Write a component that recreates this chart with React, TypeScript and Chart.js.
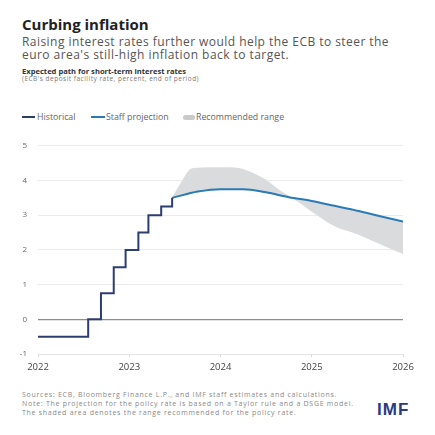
import React, { useEffect, useRef } from "react";
import { Chart, registerables } from "chart.js";

Chart.register(...registerables);

// Historical ECB deposit facility rate (step changes)
const histDates = [2022.0, 2022.55, 2022.69, 2022.83, 2022.96, 2023.1, 2023.21, 2023.35, 2023.47];
const histRates = [-0.5, 0.0, 0.75, 1.5, 2.0, 2.5, 3.0, 3.25, 3.5];

// Staff projection
const projDates = [2023.47, 2023.75, 2024.0, 2024.25, 2024.5, 2024.75, 2025.0, 2025.25, 2025.5, 2025.75, 2026.0];
const projRates = [3.5, 3.68, 3.75, 3.75, 3.66, 3.52, 3.41, 3.27, 3.13, 2.97, 2.82];

// Recommended range
const bandDates = [2023.47, 2023.58, 2023.67, 2023.75, 2024.0, 2024.2, 2024.35, 2024.5, 2024.65, 2024.8, 2025.0, 2025.25, 2025.5, 2025.75, 2026.0];
const bandUpper = [3.52, 4.0, 4.33, 4.37, 4.38, 4.36, 4.22, 4.02, 3.72, 3.5, 3.41, 3.27, 3.13, 2.97, 2.82];
const bandLower = [3.48, 3.57, 3.62, 3.66, 3.73, 3.74, 3.72, 3.64, 3.56, 3.46, 3.1, 2.68, 2.45, 2.16, 1.88];

const xMin = 2022;
const xMax = 2026;
const yMin = -1;
const yMax = 5;

const FONT = "'Open Sans', 'Noto Sans', sans-serif";
const NAVY = "#2c3d6f";
const BLUE = "#2a7ab6";
const GRAY = "#dadbdc";

const toXY = (xs: number[], ys: number[]) => xs.map((x, i) => ({ x, y: ys[i] }));

export default function App() {
  const ref = useRef<HTMLCanvasElement | null>(null);

  useEffect(() => {
    document.body.style.margin = "0";
    const canvas = ref.current;
    if (!canvas) return;
    const chart = new Chart(canvas, {
      type: "line",
      data: {
        datasets: [
          {
            label: "Historical",
            data: toXY(histDates, histRates),
            borderColor: NAVY,
            borderWidth: 2,
            pointRadius: 0,
            stepped: "before",
            fill: false,
          },
          {
            label: "Staff projection",
            data: toXY(projDates, projRates),
            borderColor: BLUE,
            borderWidth: 2,
            pointRadius: 0,
            cubicInterpolationMode: "monotone",
            fill: false,
          },
          {
            label: "Recommended range",
            data: toXY(bandDates, bandUpper),
            borderColor: "rgba(0,0,0,0)",
            borderWidth: 0,
            backgroundColor: GRAY,
            pointRadius: 0,
            cubicInterpolationMode: "monotone",
            fill: "+1",
          },
          {
            label: "Range lower",
            data: toXY(bandDates, bandLower),
            borderColor: "rgba(0,0,0,0)",
            borderWidth: 0,
            pointRadius: 0,
            cubicInterpolationMode: "monotone",
            fill: false,
          },
        ],
      },
      options: {
        animation: false,
        responsive: false,
        devicePixelRatio: 1,
        layout: { padding: { left: 0, right: 32, top: 11, bottom: 0 } },
        plugins: {
          legend: { display: false },
          tooltip: { enabled: false },
          title: { display: false },
        },
        scales: {
          x: {
            type: "linear",
            min: xMin,
            max: xMax,
            ticks: {
              stepSize: 1,
              callback: (v: any) => String(v),
              font: { family: FONT, size: 9.5 },
              color: "#444",
              padding: 5,
              maxRotation: 0,
            },
            grid: { drawOnChartArea: false, drawTicks: true, tickLength: 3, color: "#d8d8d8" },
            border: { display: true, color: "#e4e4e4" },
            afterFit: (s: any) => {
              s.height = 26;
            },
          },
          y: {
            min: yMin,
            max: yMax,
            ticks: {
              stepSize: 1,
              callback: (v: any) => String(v),
              font: { family: FONT, size: 8 },
              color: "#666",
              padding: 11,
            },
            grid: {
              drawTicks: false,
              color: (ctx: any) => (ctx.tick && ctx.tick.value === 0 ? "#8c8c8c" : "#ebebeb"),
              lineWidth: (ctx: any) => (ctx.tick && ctx.tick.value === 0 ? 1.2 : 1),
            },
            border: { display: false },
            afterFit: (s: any) => {
              s.width = 38;
            },
          },
        },
      },
    } as any);
    return () => chart.destroy();
  }, []);

  const abs = (o: React.CSSProperties): React.CSSProperties => ({ position: "absolute", whiteSpace: "nowrap", ...o });

  return (
    <div style={{ position: "relative", width: 435, height: 435, background: "#fff", fontFamily: FONT, overflow: "hidden" }}>
      <div style={abs({ left: 22, top: 15, fontSize: 15, lineHeight: "18px", fontWeight: 700, color: "#222" })}>
        Curbing inflation
      </div>
      <div style={abs({ left: 22, top: 34.5, fontSize: 12, lineHeight: "13.5px", letterSpacing: 0.45, color: "#555" })}>
        Raising interest rates further would help the ECB to steer the
        <br />
        euro area's still-high inflation back to target.
      </div>
      <div style={abs({ left: 22, top: 65.5, fontSize: 7.6, lineHeight: "10px", fontWeight: 700, color: "#333" })}>
        Expected path for short-term interest rates
      </div>
      <div style={abs({ left: 22, top: 75, fontSize: 6.5, lineHeight: "8px", letterSpacing: 0.5, color: "#777" })}>
        (ECB's deposit facility rate, percent, end of period)
      </div>

      {/* legend */}
      <div style={abs({ left: 22, top: 116, width: 13, height: 2, background: NAVY })} />
      <div style={abs({ left: 37, top: 112, fontSize: 8.8, lineHeight: "10px", color: "#666" })}>Historical</div>
      <div style={abs({ left: 91, top: 116, width: 14, height: 2, background: BLUE })} />
      <div style={abs({ left: 106, top: 112, fontSize: 8.8, lineHeight: "10px", color: "#666" })}>Staff projection</div>
      <div style={abs({ left: 183, top: 114.5, width: 12, height: 5, borderRadius: 3, background: "#c9cacb" })} />
      <div style={abs({ left: 196, top: 112, fontSize: 8.8, lineHeight: "10px", color: "#666" })}>Recommended range</div>

      <canvas ref={ref} width={435} height={250} style={{ position: "absolute", left: 0, top: 130, width: 435, height: 250 }} />

      <div style={abs({ left: 22, top: 389.5, fontSize: 7, lineHeight: "9px", letterSpacing: 0.72, color: "#888" })}>
        Sources: ECB, Bloomberg Finance L.P., and IMF staff estimates and calculations.
        <br />
        Note: The projection for the policy rate is based on a Taylor rule and a DSGE model.
        <br />
        The shaded area denotes the range recommended for the policy rate.
      </div>
      <div
        style={abs({
          left: 377,
          top: 400,
          fontSize: 17,
          lineHeight: "20px",
          fontWeight: 900,
          color: "#2b3a82",
          fontFamily: "'Liberation Sans', Arial, sans-serif",
          letterSpacing: 1,
        })}
      >
        IMF
      </div>
    </div>
  );
}
